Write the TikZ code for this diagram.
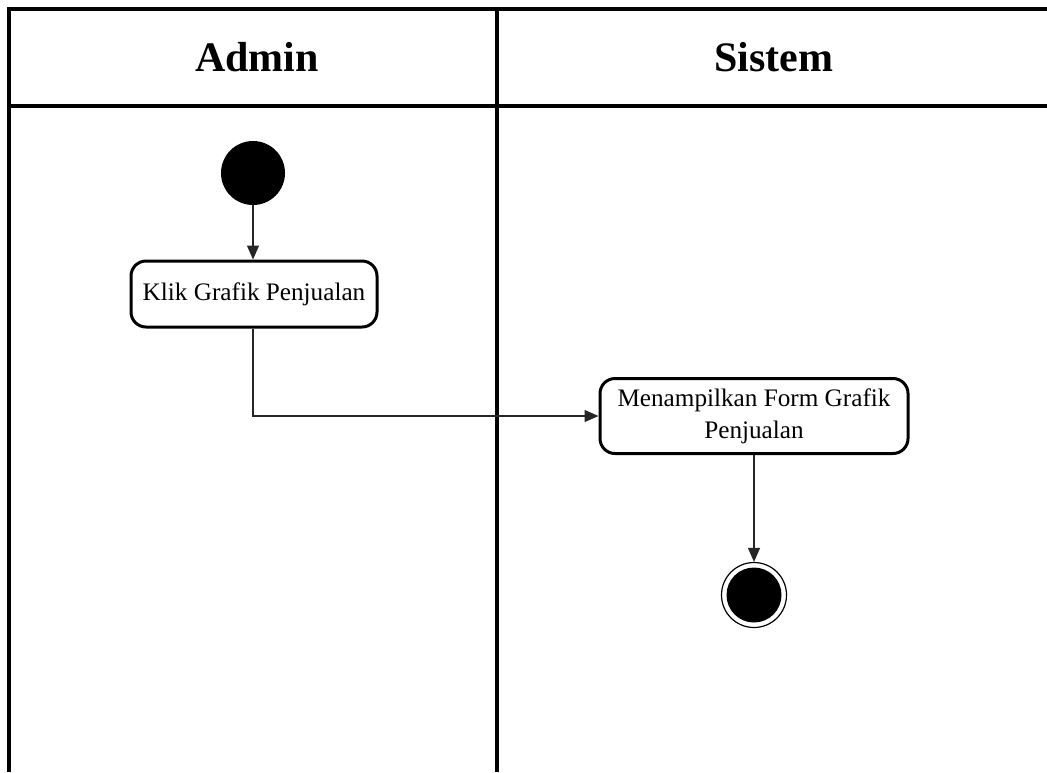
\documentclass[tikz,border=0pt]{standalone}
\usepackage{fontspec}
\setmainfont{Liberation Serif}
\usetikzlibrary{arrows.meta}

\tikzset{
  lane/.style = {line width=1.8pt},
  act/.style = {draw, line width=1.5pt, rounded corners=7.5pt, fill=white,
    align=center, inner sep=0pt, font=\fontsize{12.6}{16}\selectfont},
  head/.style = {font=\fontsize{21}{25}\selectfont\bfseries},
  flow/.style = {-{Triangle[length=7pt,width=6pt]}, line width=0.6pt, black!85}
}

\begin{document}
\begin{tikzpicture}[x=0.5pt, y=-0.5pt]
  \useasboundingbox (0,0) rectangle (1047,772);
  \draw[lane] (1047,9) -| (9,772);
  \draw[lane] (9,106) -- (1047,106);
  \draw[lane] (497,9) -- (497,772);
  \node[head] (admin) at (257,57) {Admin};
  \node[head] (sistem) at (774,57) {Sistem};

  \node[circle, fill=black, minimum size=32pt, inner sep=0pt] (start) at (253,173) {};
  \node[act, minimum width=123pt, minimum height=33pt] (klik) at (254,294) {Klik Grafik Penjualan};
  \node[act, minimum width=154pt, minimum height=37.5pt] (form) at (754,416) {Menampilkan Form Grafik\\Penjualan};
  \node[circle, draw, line width=0.6pt, minimum size=32.5pt, inner sep=0pt] (end) at (754,595) {};
  \node[circle, fill=black, minimum size=27.5pt, inner sep=0pt] (endin) at (end) {};

  \path[flow]
    (start) edge (start |- klik.north)
    (form) edge (end);
  \draw[flow] (klik.south -| start) |- (form.west);
\end{tikzpicture}
\end{document}
